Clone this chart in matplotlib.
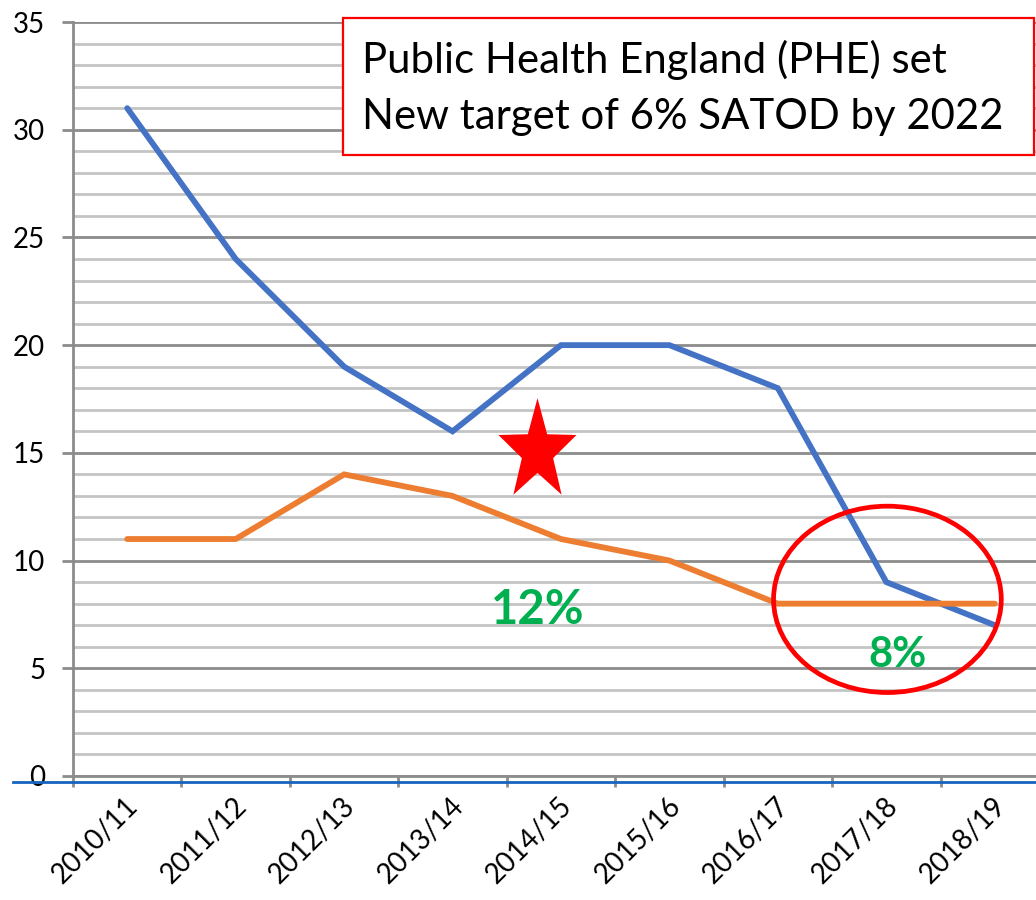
import matplotlib
matplotlib.use("Agg")
import numpy as np
import matplotlib.pyplot as plt
from matplotlib.patches import Ellipse, Rectangle
from matplotlib.path import Path
from matplotlib.ticker import MultipleLocator, FixedLocator

# data
years = ["2010/11", "2011/12", "2012/13", "2013/14", "2014/15",
         "2015/16", "2016/17", "2017/18", "2018/19"]
blue_vals = [31, 24, 19, 16, 20, 20, 18, 9, 7]
orange_vals = [11, 11, 14, 13, 11, 10, 8, 8, 8]
box_lines = ["Public Health England (PHE) set",
             "New target of 6% SATOD by 2022"]
label_12 = "12%"
label_8 = "8%"

plt.rcParams["font.family"] = ["Lato", "DejaVu Sans"]

W, H = 1036, 900
fig = plt.figure(figsize=(W / 100, H / 100), dpi=100)
x0, x1, y0, y1 = 73, 1049, 776, 22
ax = fig.add_axes([x0 / W, (H - y0) / H, (x1 - x0) / W, (y0 - y1) / H])

xs = [i + 0.5 for i in range(len(years))]
ax.set_xlim(0, len(years))
ax.set_ylim(0, 35)

# grid
ax.yaxis.set_major_locator(MultipleLocator(5))
ax.yaxis.set_minor_locator(MultipleLocator(1))
ax.grid(axis="y", which="major", color="#8c8c8c", linewidth=2.0, zorder=0)
ax.grid(axis="y", which="minor", color="#c4c4c4", linewidth=2.0, zorder=0)
ax.set_axisbelow(True)

for s in ["top", "right"]:
    ax.spines[s].set_visible(False)
ax.spines["left"].set_color("#8c8c8c")
ax.spines["left"].set_linewidth(2)
ax.spines["bottom"].set_color("#8c8c8c")
ax.spines["bottom"].set_linewidth(2)

ax.tick_params(axis="y", which="major", length=8, width=2, color="#8c8c8c",
               labelsize=20, pad=12)
ax.tick_params(axis="y", which="minor", length=0)

# category boundaries carry the tick marks, labels sit at the centres
ax.xaxis.set_major_locator(FixedLocator(range(len(years) + 1)))
ax.xaxis.set_minor_locator(FixedLocator([x - 0.02 for x in xs]))
ax.set_xticklabels([])
ax.set_xticklabels(years, minor=True)
ax.tick_params(axis="x", which="major", length=8, width=2, color="#8c8c8c")
ax.tick_params(axis="x", which="minor", length=0, labelsize=20, pad=12)
for lab in ax.get_xticklabels(minor=True):
    lab.set_rotation(45)
    lab.set_ha("right")
    lab.set_va("top")
    lab.set_rotation_mode("anchor")

ax.plot(xs, blue_vals, color="#4472C4", linewidth=4.2,
        solid_capstyle="round", solid_joinstyle="miter", zorder=3)
ax.plot(xs, orange_vals, color="#ED7D31", linewidth=4.2,
        solid_capstyle="round", solid_joinstyle="miter", zorder=3)

# blue rule under the axis
ax.plot([-0.55, len(years)], [-0.28, -0.28], color="#1565C0", linewidth=2,
        clip_on=False, zorder=4)

# slightly tall five-point star, as in the reference
ang = np.pi / 2 + np.arange(10) * np.pi / 5
rad = np.where(np.arange(10) % 2 == 0, 1.0, 0.40)
star_xy = np.column_stack([rad * np.cos(ang), rad * np.sin(ang) * 1.3])
star_xy = np.vstack([star_xy, star_xy[:1]])
star = Path(star_xy, closed=True)
ax.scatter([4.28], [15.1], marker=star, s=5900, color="#FF0000",
           linewidths=0, zorder=5)

ax.text(4.29, 7.7, label_12, color="#00B050", fontsize=34, fontweight="bold",
        ha="center", va="center", zorder=5)
ax.text(7.6, 5.6, label_8, color="#00B050", fontsize=30, fontweight="bold",
        ha="center", va="center", zorder=5)
ax.add_patch(Ellipse((7.51, 8.2), 2.1, 8.65, fill=False, edgecolor="#FF0000",
                     linewidth=3.4, zorder=6))

# text box in pixel-based figure coords
bx0, by0, bx1, by1 = 343, 18, 1034, 155
fig.patches.append(Rectangle((bx0 / W, 1 - by1 / H), (bx1 - bx0) / W,
                             (by1 - by0) / H, transform=fig.transFigure,
                             facecolor="white", edgecolor="#FF0000",
                             linewidth=1.6, zorder=10))
fig.text(362 / W, 1 - 60 / H, box_lines[0], fontsize=30.2, ha="left",
         va="center", zorder=11)
fig.text(362 / W, 1 - 117 / H, box_lines[1], fontsize=30.2, ha="left",
         va="center", zorder=11)

fig.savefig("out.png", dpi=100)
